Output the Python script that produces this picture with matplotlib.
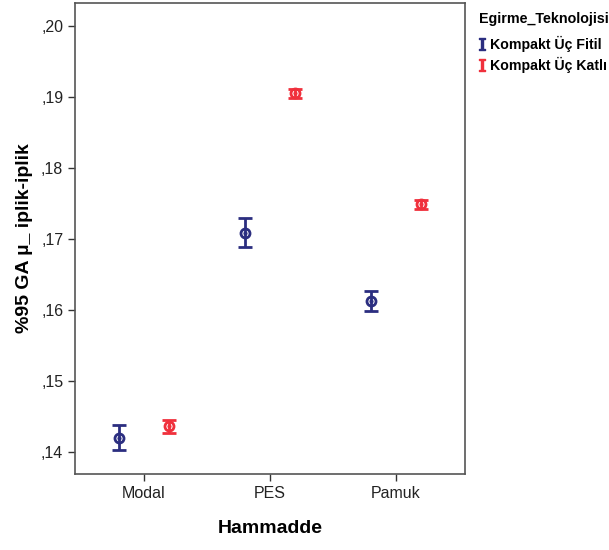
import matplotlib.pyplot as plt
from matplotlib.lines import Line2D

plt.rcParams['font.family'] = ['Liberation Sans', 'DejaVu Sans']
plt.rcParams['mathtext.fontset'] = 'dejavuserif'

kategoriler = ['Modal', 'PES', 'Pamuk']
seriler = ['Kompakt Üç Fitil', 'Kompakt Üç Katlı']
renkler = ['#2b2e80', '#f0303c']

# ortalama, alt ve ust guven siniri
fitil_ort = [0.1420, 0.1708, 0.1613]
fitil_alt = [0.1403, 0.1688, 0.1598]
fitil_ust = [0.1438, 0.1729, 0.1626]

katli_ort = [0.1437, 0.1905, 0.1749]
katli_alt = [0.1427, 0.1898, 0.1742]
katli_ust = [0.1445, 0.1911, 0.1755]

fig = plt.figure(figsize=(6.09, 5.5), dpi=100)
ax = fig.add_axes([75 / 609, 1 - 474 / 550, 390 / 609, 471 / 550])

veriler = [(fitil_ort, fitil_alt, fitil_ust), (katli_ort, katli_alt, katli_ust)]
kaymalar = [-0.2, 0.2]
for (ort, alt, ust), renk, kayma in zip(veriler, renkler, kaymalar):
    xs = [i + kayma for i in range(len(kategoriler))]
    hata = [[o - a for o, a in zip(ort, alt)], [u - o for u, o in zip(ust, ort)]]
    ax.errorbar(xs, ort, yerr=hata, fmt='o', color=renk, mfc='none', mec=renk,
                mew=2, ms=6.5, capsize=5, capthick=2, elinewidth=2)
    ax.plot(xs, ort, 'o', color=renk, ms=2)

ax.set_xlim(-0.548, 2.548)
ax.set_ylim(0.1369, 0.2032)
ax.set_xticks(range(len(kategoriler)))
ax.set_xticklabels(kategoriler)
ax.set_yticks([0.14, 0.15, 0.16, 0.17, 0.18, 0.19, 0.20])
ax.set_yticklabels([',14', ',15', ',16', ',17', ',18', ',19', ',20'])
ax.tick_params(axis='both', labelsize=11.5, colors='#333333', length=5, width=1, labelcolor='#222222')
for s in ax.spines.values():
    s.set_color('#555555')
    s.set_linewidth(1.2)

ax.set_xlabel('Hammadde', fontsize=14, fontweight='bold', labelpad=14)
ax.set_ylabel('%95 GA µ_ iplik-iplik', fontsize=14, fontweight='bold', labelpad=6)

tutamaklar = [Line2D([], [], ls='none', marker='$\\mathbf{I}$', color=r, ms=8) for r in renkler]
leg = fig.legend(tutamaklar, seriler, title='Egirme_Teknolojisi', loc='upper left',
                 bbox_to_anchor=(466 / 609, 1 + 1 / 550), frameon=False,
                 handlelength=0.5, handletextpad=0.3, labelspacing=0.4,
                 prop={'size': 10.2, 'weight': 'bold'},
                 title_fontproperties={'size': 10.3, 'weight': 'bold'})
leg._legend_box.align = 'left'
leg._legend_box.sep = 7

fig.savefig('out.png', dpi=100)
